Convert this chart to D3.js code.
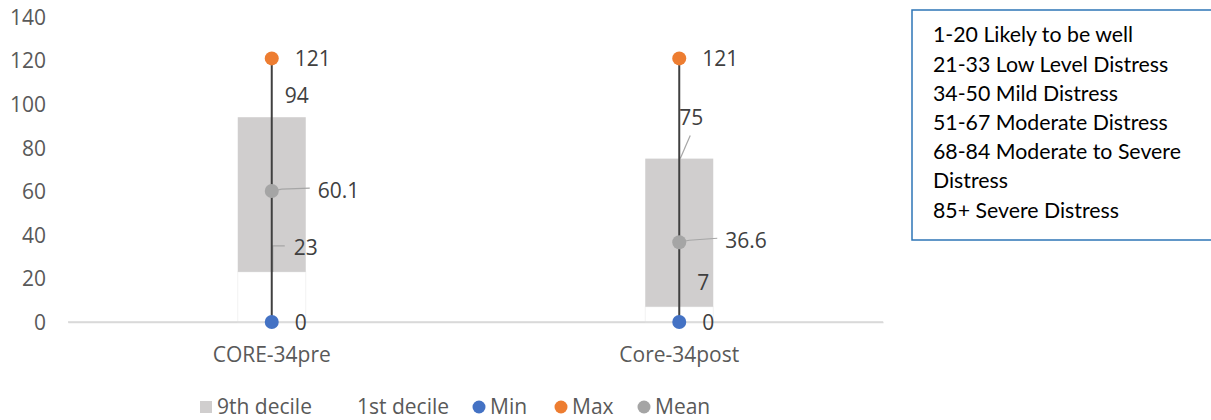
<!DOCTYPE html>
<html>
<head>
<meta charset="utf-8">
<script src="https://cdn.jsdelivr.net/npm/d3@7"></script>
<style>
  html, body { margin: 0; padding: 0; background: #fff; }
  svg { display: block; }
</style>
</head>
<body>
<svg id="chart" width="1211" height="420"></svg>
<script>
const categories = ["CORE-34pre", "Core-34post"];
const firstDecile = [23, 7];
const ninthDecile = [94, 75];
const minValues = [0, 0];
const maxValues = [121, 121];
const meanValues = [60.1, 36.6];
const yTicks = [0, 20, 40, 60, 80, 100, 120, 140];
const legendItems = ["9th decile", "1st decile", "Min", "Max", "Mean"];
const noteLines = [
  "1-20 Likely to be well",
  "21-33 Low Level Distress",
  "34-50 Mild Distress",
  "51-67 Moderate Distress",
  "68-84 Moderate to Severe",
  "Distress",
  "85+ Severe Distress"
];

const svg = d3.select("#chart");
const font = "'Open Sans', 'Segoe UI', sans-serif";
const fs = 21;
const margin = { left: 68, right: 328, top: 17, bottom: 98 };
const W = 1211, H = 420;

const x = d3.scaleBand().domain(categories).range([margin.left, W - margin.right]).paddingInner(0).paddingOuter(0);
const y = d3.scaleLinear().domain([0, 140]).range([H - margin.bottom, margin.top]);
const barW = 68;

// y-axis labels
const yAxis = d3.axisLeft(y).tickValues(yTicks).tickSize(0).tickPadding(0);
const yg = svg.append("g").attr("transform", `translate(46,0)`).call(yAxis);
yg.select(".domain").remove();
yg.selectAll("text").attr("font-family", font).attr("font-size", fs).attr("fill", "#595959").attr("dy", "0.35em");

// x axis
const xAxis = d3.axisBottom(x).tickSize(0).tickPadding(0);
const xg = svg.append("g").attr("transform", `translate(0,${y(0)})`).call(xAxis);
xg.select(".domain").attr("stroke", "#D9D9D9").attr("stroke-width", 1.5);
xg.selectAll("text").attr("font-family", font).attr("font-size", fs).attr("fill", "#595959")
  .attr("y", 33).attr("dy", "0.35em");

const cx = d => x(d) + x.bandwidth() / 2;

// 1st decile bars (no fill, faint outline)
svg.selectAll(".b1").data(categories).enter().append("rect")
  .attr("x", d => cx(d) - barW / 2)
  .attr("y", (d, i) => y(firstDecile[i]))
  .attr("width", barW)
  .attr("height", (d, i) => y(0) - y(firstDecile[i]))
  .attr("fill", "#fff").attr("stroke", "#F2F2F2").attr("stroke-width", 1);

// 9th decile bars stacked
svg.selectAll(".b9").data(categories).enter().append("rect")
  .attr("x", d => cx(d) - barW / 2)
  .attr("y", (d, i) => y(ninthDecile[i]))
  .attr("width", barW)
  .attr("height", (d, i) => y(firstDecile[i]) - y(ninthDecile[i]))
  .attr("fill", "#D0CECE");

// redraw axis line over bars
svg.append("line").attr("x1", margin.left).attr("x2", W - margin.right)
  .attr("y1", y(0)).attr("y2", y(0)).attr("stroke", "#D9D9D9").attr("stroke-width", 1.5);

// leader lines
const leaderColor = "#A6A6A6";
categories.forEach((c, i) => {
  const x0 = cx(c), y0 = y(meanValues[i]);
  svg.append("path")
    .attr("d", `M${x0},${y0} L${x0 + 10},${y0 - 2} L${x0 + 38},${y0 - 4 + (i === 0 ? 1 : 0)}`)
    .attr("fill", "none").attr("stroke", leaderColor).attr("stroke-width", 1.2);
});
{
  const x0 = cx(categories[0]) + 1, y0 = y(firstDecile[0]);
  svg.append("path").attr("d", `M${x0},${y0} L${x0},${y0 - 26} L${x0 + 12},${y0 - 26}`)
    .attr("fill", "none").attr("stroke", leaderColor).attr("stroke-width", 1.2);
}
{
  const x0 = cx(categories[1]) + 1, y0 = y(ninthDecile[1]);
  svg.append("line").attr("x1", x0).attr("y1", y0).attr("x2", x0 + 10).attr("y2", y0 - 23)
    .attr("stroke", leaderColor).attr("stroke-width", 1.2);
}

// min-max line
svg.selectAll(".hl").data(categories).enter().append("line")
  .attr("x1", d => cx(d)).attr("x2", d => cx(d))
  .attr("y1", (d, i) => y(minValues[i])).attr("y2", (d, i) => y(maxValues[i]))
  .attr("stroke", "#404040").attr("stroke-width", 2);

// dots
const dotR = 7;
function dots(vals, color) {
  svg.append("g").selectAll("circle").data(categories).enter().append("circle")
    .attr("cx", d => cx(d)).attr("cy", (d, i) => y(vals[i])).attr("r", dotR).attr("fill", color);
}
dots(minValues, "#4472C4");
dots(maxValues, "#ED7D31");
dots(meanValues, "#A5A5A5");

// data labels with per-label offsets [dx, dy]
const labelColor = "#404040";
function labels(vals, offsets, fmt) {
  svg.append("g").selectAll("text").data(categories).enter().append("text")
    .attr("x", (d, i) => cx(d) + offsets[i][0])
    .attr("y", (d, i) => y(vals[i]) + offsets[i][1])
    .attr("dy", "0.35em")
    .attr("font-family", font).attr("font-size", fs).attr("fill", labelColor)
    .text((d, i) => fmt(vals[i]));
}
labels(maxValues, [[23, 0], [23, 0]], v => v);
labels(ninthDecile, [[13, -22], [0, -41]], v => v);
labels(meanValues, [[46, 0], [46, -2]], v => v.toFixed(1));
labels(firstDecile, [[22, -24], [18, -24]], v => v);
labels(minValues, [[23, 1], [23, 1]], v => v);

// legend
const lg = svg.append("g").attr("font-family", font).attr("font-size", fs).attr("fill", "#595959");
const legendY = 407;
const legendPos = [200, 357, 473, 555, 638];
legendItems.forEach((name, i) => {
  const lx = legendPos[i];
  if (i === 0) {
    lg.append("rect").attr("x", lx).attr("y", legendY - 6).attr("width", 12).attr("height", 12).attr("fill", "#D0CECE");
  } else if (i >= 2) {
    const col = ["#4472C4", "#ED7D31", "#A5A5A5"][i - 2];
    lg.append("circle").attr("cx", lx + 6).attr("cy", legendY).attr("r", 6.5).attr("fill", col);
  }
  lg.append("text").attr("x", i === 1 ? lx : lx + 17).attr("y", legendY).attr("dy", "0.35em").text(name);
});

// note box
const box = svg.append("g");
box.append("rect").attr("x", 912).attr("y", 10).attr("width", 320).attr("height", 230)
  .attr("fill", "#fff").attr("stroke", "#2E75B6").attr("stroke-width", 1.5);
box.append("g").selectAll("text").data(noteLines).enter().append("text")
  .attr("x", 933).attr("y", (d, i) => 35 + i * 29.2).attr("dy", "0.35em")
  .attr("font-family", "Lato, Carlito, Calibri, sans-serif").attr("font-size", 21.3).attr("fill", "#000")
  .text(d => d);
</script>
</body>
</html>
